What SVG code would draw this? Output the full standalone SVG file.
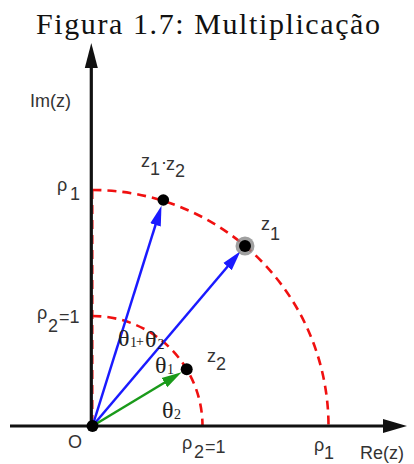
<svg xmlns="http://www.w3.org/2000/svg" width="414" height="464" viewBox="0 0 414 464">
<style>
.lab{font-family:"Liberation Sans",Arial,sans-serif;font-size:18px;fill:#333}
.th{font-family:"Liberation Serif","Times New Roman",serif;font-size:24px;fill:#222}
.sub{font-size:14px}
.dash{fill:none;stroke:#f01010;stroke-width:2.6;stroke-dasharray:9 6}
.axis{stroke:#111;stroke-width:3.2;fill:none}
.vb{stroke:#1a1aff;stroke-width:2.5;fill:none;marker-end:url(#ab)}
.vg{stroke:#1a9a1a;stroke-width:2.5;fill:none;marker-end:url(#ag)}
</style>
<defs>
<marker id="ab" markerUnits="userSpaceOnUse" markerWidth="20" markerHeight="12" refX="10" refY="6" orient="auto"><path d="M0,0.5 L20,6 L0,11.5 Z" fill="#1a1aff"/></marker>
<marker id="ag" markerUnits="userSpaceOnUse" markerWidth="20" markerHeight="12" refX="10" refY="6" orient="auto"><path d="M0,0.5 L20,6 L0,11.5 Z" fill="#1a9a1a"/></marker>
</defs>
<rect width="414" height="464" fill="#fff"/>
<text x="36" y="34" font-family="Liberation Serif,'Times New Roman',serif" font-size="30" fill="#111" textLength="344" lengthAdjust="spacing">Figura 1.7: Multiplicação</text>
<g id="circles">
<path class="dash" d="M92.5,190 A236,236 0 0 1 328.5,426"/>
<path class="dash" d="M92.5,316 A110,110 0 0 1 202.5,426"/>
<line class="dash" x1="92.6" y1="190" x2="92.6" y2="426" stroke-width="2" opacity="0.6"/>
</g>
<g id="axes">
<line class="axis" x1="91.3" y1="426" x2="91.3" y2="64"/>
<polygon points="91.3,43 84.8,68 97.8,68" fill="#111"/>
<line class="axis" x1="10" y1="426" x2="386" y2="426" stroke-width="3.6"/>
<polygon points="407,426 383,419 383,433" fill="#111"/>
</g>
<g id="connectors">
<line class="vb" x1="92.5" y1="426" x2="158.5" y2="215.4"/>
<line class="vb" x1="92.5" y1="426" x2="234" y2="259"/>
<line class="vg" x1="92.5" y1="426" x2="173" y2="377.5"/>
</g>
<g id="origin"><circle cx="92.5" cy="426" r="6" fill="#000"/></g>
<g id="z1z2"><circle cx="163.3" cy="200" r="5.8" fill="#000"/></g>
<g id="z1"><circle cx="245" cy="246" r="9.5" fill="#888" opacity="0.8"/><circle cx="245" cy="246" r="6" fill="#000"/></g>
<g id="z2"><circle cx="186.7" cy="369.3" r="6" fill="#000"/></g>
<g id="labels">
<text class="lab" x="30" y="107">Im(z)</text>
<text class="lab"><tspan x="57" y="191">ρ</tspan><tspan x="70" y="200">1</tspan></text>
<text class="lab"><tspan x="37" y="319">ρ</tspan><tspan x="48" y="332">2</tspan><tspan x="59" y="323">=1</tspan></text>
<text class="lab"><tspan x="141" y="167">z</tspan><tspan x="150" y="175">1</tspan><tspan x="161" y="168">·</tspan><tspan x="166" y="170">z</tspan><tspan x="175" y="177">2</tspan></text>
<text class="lab"><tspan x="261" y="230">z</tspan><tspan x="270" y="240">1</tspan></text>
<text class="lab"><tspan x="207" y="362">z</tspan><tspan x="216" y="370">2</tspan></text>
<text class="th"><tspan x="118" y="346">θ</tspan><tspan class="sub" x="130" y="347">1</tspan><tspan class="sub" x="136" y="346">+</tspan><tspan x="145" y="347">θ</tspan><tspan class="sub" x="157.5" y="349">2</tspan></text>
<text class="th"><tspan x="155" y="373">θ</tspan><tspan class="sub" x="167" y="374">1</tspan></text>
<text class="th"><tspan x="162" y="418">θ</tspan><tspan class="sub" x="174" y="419">2</tspan></text>
<text class="lab" x="68" y="448" font-size="20">O</text>
<text class="lab"><tspan x="182" y="449">ρ</tspan><tspan x="194" y="458">2</tspan><tspan x="205" y="453">=1</tspan></text>
<text class="lab"><tspan x="314" y="451">ρ</tspan><tspan x="324" y="459">1</tspan></text>
<text class="lab" x="360" y="459">Re(z)</text>
</g>
</svg>
